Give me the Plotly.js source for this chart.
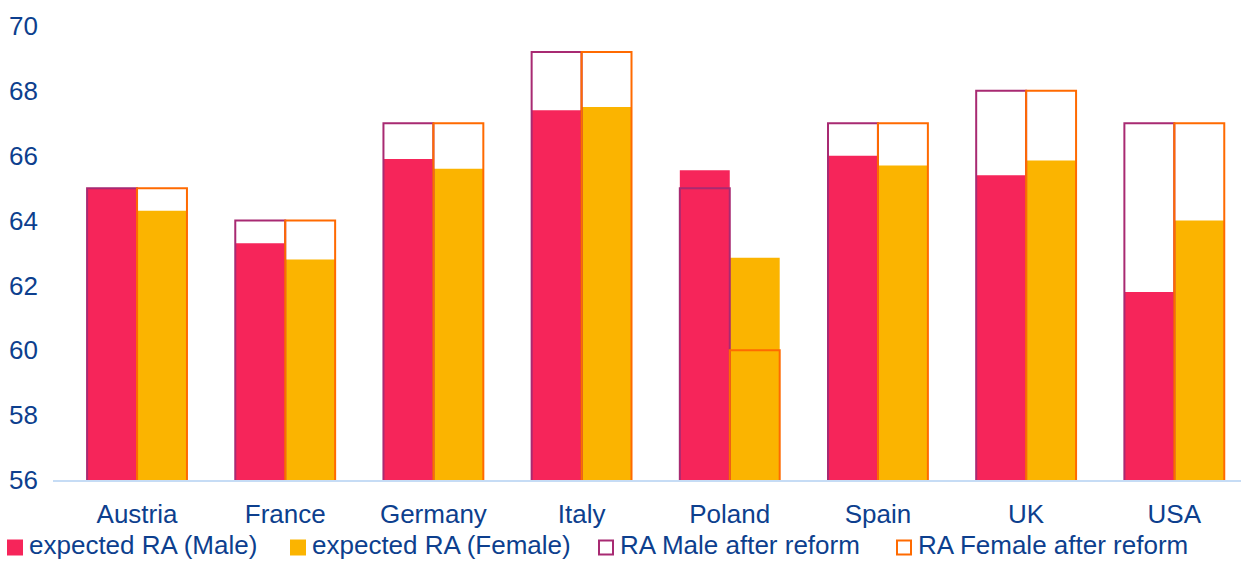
<!DOCTYPE html>
<html>
<head>
<meta charset="utf-8">
<script src="https://cdn.plot.ly/plotly-3.0.1.min.js"></script>
<style>
  html, body { margin: 0; padding: 0; background: #ffffff; }
  #chart { width: 1242px; height: 561px; }
</style>
</head>
<body>
<div id="chart"></div>
<script>
// Retirement age (RA) by country: expected vs. after reform
const countries = ["Austria", "France", "Germany", "Italy", "Poland", "Spain", "UK", "USA"];
const expectedMale   = [65.0, 63.3, 65.9, 67.4, 65.55, 66.0, 65.4, 61.8];
const expectedFemale = [64.3, 62.8, 65.6, 67.5, 62.85, 65.7, 65.85, 64.0];
const reformMale     = [65, 64, 67, 69.2, 65, 67, 68, 67];
const reformFemale   = [65, 64, 67, 69.2, 60, 67, 68, 67];

const yTicks = [56, 58, 60, 62, 64, 66, 68, 70];

const FONT = "Arial, 'Liberation Sans', sans-serif";
const TEXT_COLOR = "#0D3F8E";
const FONT_SIZE = 26;
const BAR_W = 0.337;

// page geometry (px)
const W = 1242, H = 561;
const M = { l: 53, r: 1, t: 26, b: 81 };
const plotW = W - M.l - M.r, plotH = H - M.t - M.b;
const toPaperX = px => (px - M.l) / plotW;
const toPaperY = py => (H - M.b - py) / plotH;

const series = [
  { name: "expected RA (Male)",     y: expectedMale,   fill: "#F6255A", line: null,      offset: -BAR_W },
  { name: "expected RA (Female)",   y: expectedFemale, fill: "#FBB400", line: null,      offset: 0 },
  { name: "RA Male after reform",   y: reformMale,     fill: null,      line: "#A82A72", offset: -BAR_W },
  { name: "RA Female after reform", y: reformFemale,   fill: null,      line: "#FF6A00", offset: 0 }
];

const traces = series.map(s => ({
  type: "bar", name: s.name,
  x: countries, y: s.y,
  width: BAR_W, offset: s.offset,
  marker: {
    color: s.fill || "rgba(0,0,0,0)",
    line: s.line ? { color: s.line, width: 2 } : { width: 0 }
  },
  showlegend: false
}));

// legend row below the axis: a swatch and a label per series
const legendLeft = [7, 290, 598, 896];
const SWATCH = 16, SWATCH_CY = 547.5, LABEL_CY = 545, LABEL_GAP = 22;

const shapes = series.map((s, i) => ({
  type: "rect", xref: "paper", yref: "paper",
  x0: toPaperX(legendLeft[i] + (s.line ? 1 : 0)),
  x1: toPaperX(legendLeft[i] + SWATCH - (s.line ? 1 : 0)),
  y0: toPaperY(SWATCH_CY + SWATCH / 2 - (s.line ? 1 : 0)),
  y1: toPaperY(SWATCH_CY - SWATCH / 2 + (s.line ? 1 : 0)),
  fillcolor: s.fill || "#ffffff",
  line: s.line ? { color: s.line, width: 2 } : { width: 0 }
}));

const annotations = series.map((s, i) => ({
  xref: "paper", yref: "paper",
  x: toPaperX(legendLeft[i] + LABEL_GAP), y: toPaperY(LABEL_CY),
  xanchor: "left", yanchor: "middle",
  borderpad: 0, borderwidth: 0,
  text: s.name, showarrow: false,
  font: { family: FONT, size: FONT_SIZE, color: TEXT_COLOR }
}));

const layout = {
  width: W, height: H,
  margin: { l: M.l, r: M.r, t: M.t, b: M.b, autoexpand: false },
  paper_bgcolor: "#ffffff", plot_bgcolor: "#ffffff",
  barmode: "overlay",
  font: { family: FONT, size: FONT_SIZE, color: TEXT_COLOR },
  showlegend: false,
  shapes: shapes,
  annotations: annotations,
  xaxis: {
    type: "category",
    range: [-0.567, 7.45],
    showgrid: false, zeroline: false,
    showline: true, linecolor: "#C6DCF5", linewidth: 2,
    ticks: "", ticklabelstandoff: 10,
    automargin: false,
    tickfont: { family: FONT, size: FONT_SIZE, color: TEXT_COLOR }
  },
  yaxis: {
    range: [56, 70],
    tickvals: yTicks, ticktext: yTicks.map(String),
    showgrid: false, zeroline: false, showline: false,
    ticks: "", ticklabelstandoff: 14,
    automargin: false,
    tickfont: { family: FONT, size: FONT_SIZE, color: TEXT_COLOR }
  }
};

Plotly.newPlot("chart", traces, layout, { displayModeBar: false, staticPlot: true });
</script>
</body>
</html>
